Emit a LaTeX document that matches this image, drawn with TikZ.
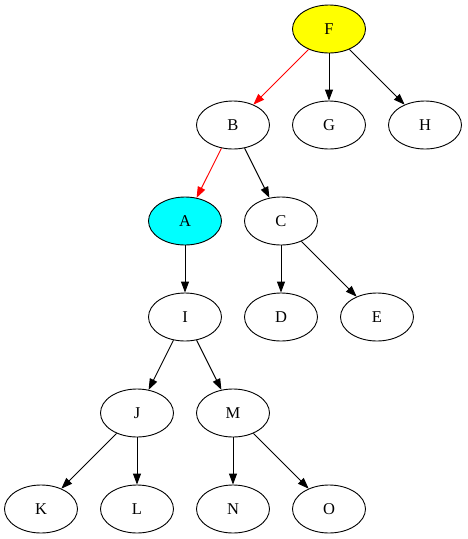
\documentclass[tikz,border=0pt]{standalone}
\usepackage{fontspec}
\setmainfont{Liberation Serif}
\usetikzlibrary{shapes.geometric,arrows.meta}
\definecolor{gvcyan}{RGB}{0,255,255}
\definecolor{gvyellow}{RGB}{255,255,0}
\definecolor{gvred}{RGB}{255,0,0}
\begin{document}
\begin{tikzpicture}[x=1pt,y=-1pt,
  nd/.style={ellipse,draw,line width=0.9pt,minimum width=73pt,minimum height=48pt,inner sep=0pt,font=\fontsize{16.5}{18}\selectfont},
  ed/.style={draw,line width=0.9pt,-{Triangle[length=11pt,width=8pt]}},
  red/.style={ed,draw=gvred,-{Triangle[length=11pt,width=8pt,fill=gvred]}}]
\useasboundingbox (0,0) rectangle (467,539);
\node[nd,fill=gvyellow] (F) at (329,29) {F};
\node[nd] (B) at (233,125) {B};
\node[nd] (G) at (329,125) {G};
\node[nd] (H) at (425,125) {H};
\node[nd,fill=gvcyan] (A) at (185,221) {A};
\node[nd] (C) at (281,221) {C};
\node[nd] (I) at (185,317) {I};
\node[nd] (D) at (281,317) {D};
\node[nd] (E) at (377,317) {E};
\node[nd] (J) at (137,413) {J};
\node[nd] (M) at (233,413) {M};
\node[nd] (K) at (41,509) {K};
\node[nd] (L) at (137,509) {L};
\node[nd] (N) at (233,509) {N};
\node[nd] (O) at (329,509) {O};
\draw[red] (F) -- (B);
\draw[ed] (F) -- (G);
\draw[ed] (F) -- (H);
\draw[red] (B) -- (A);
\draw[ed] (B) -- (C);
\draw[ed] (A) -- (I);
\draw[ed] (C) -- (D);
\draw[ed] (C) -- (E);
\draw[ed] (I) -- (J);
\draw[ed] (I) -- (M);
\draw[ed] (J) -- (K);
\draw[ed] (J) -- (L);
\draw[ed] (M) -- (N);
\draw[ed] (M) -- (O);
\end{tikzpicture}
\end{document}
